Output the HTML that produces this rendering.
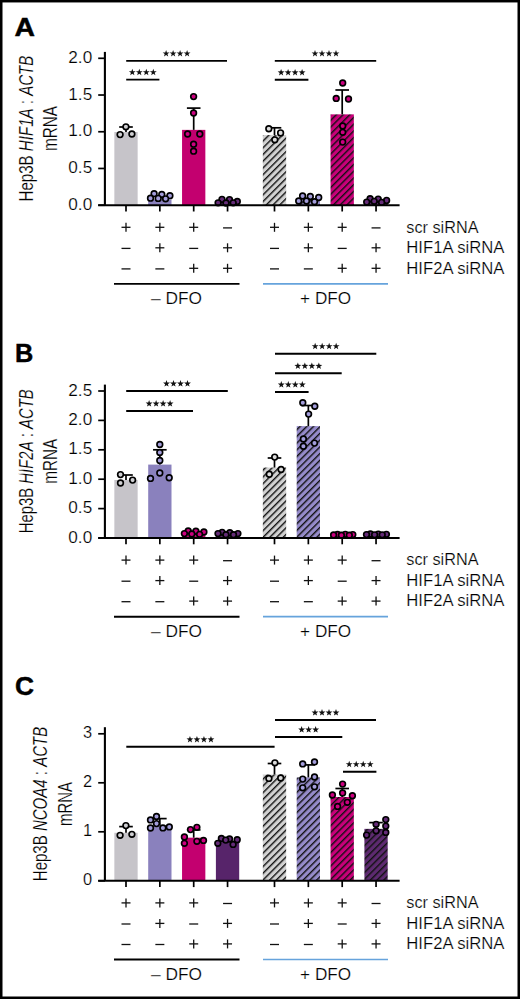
<!DOCTYPE html><html><head><meta charset="utf-8"><style>html,body{margin:0;padding:0;background:#fff;}svg{display:block;}</style></head><body>
<svg width="520" height="999" viewBox="0 0 520 999">
<style>text{stroke:#fff;stroke-width:0.2px;}text.b{stroke:#000;stroke-width:0.45px;}</style>
<defs>
<pattern id="hg" patternUnits="userSpaceOnUse" width="10" height="4.75" patternTransform="rotate(-45)"><rect width="10" height="4.75" fill="#d2d2d2"/><rect y="0" width="10" height="1.4" fill="#111"/></pattern>
<pattern id="hl" patternUnits="userSpaceOnUse" width="10" height="4.75" patternTransform="rotate(-45)"><rect width="10" height="4.75" fill="#958bca"/><rect y="0" width="10" height="1.4" fill="#111"/></pattern>
<pattern id="hm" patternUnits="userSpaceOnUse" width="10" height="4.75" patternTransform="rotate(-45)"><rect width="10" height="4.75" fill="#c8007a"/><rect y="0" width="10" height="1.4" fill="#111"/></pattern>
<pattern id="hp" patternUnits="userSpaceOnUse" width="10" height="4.75" patternTransform="rotate(-45)"><rect width="10" height="4.75" fill="#5d2a70"/><rect y="0" width="10" height="1.4" fill="#111"/></pattern>
</defs>
<rect x="0" y="0" width="520" height="999" fill="#fff"/>
<text transform="translate(14.6,35.800000000000004) scale(1.12,1)" x="0" y="0" font-family='"Liberation Sans", sans-serif' font-weight="bold" font-size="25.3" class="b">A</text>
<rect x="114.35" y="132.01" width="23.3" height="73.19" fill="#c6c4c9"/>
<rect x="148.20" y="199.51" width="23.3" height="5.69" fill="#8a81bd"/>
<rect x="182.05" y="129.87" width="23.3" height="75.33" fill="#c3006f"/>
<rect x="215.90" y="202.25" width="23.3" height="2.95" fill="#57246a"/>
<rect x="262.85" y="135.04" width="23.3" height="70.16" fill="url(#hg)"/>
<rect x="296.70" y="199.29" width="23.3" height="5.91" fill="url(#hl)"/>
<rect x="330.55" y="114.36" width="23.3" height="90.84" fill="url(#hm)"/>
<rect x="364.40" y="201.51" width="23.3" height="3.69" fill="url(#hp)"/>
<line x1="126.0" y1="132.01" x2="126.0" y2="127.00" stroke="#000" stroke-width="1.7"/>
<line x1="119.2" y1="127.00" x2="132.8" y2="127.00" stroke="#000" stroke-width="1.7"/>
<line x1="193.7" y1="129.87" x2="193.7" y2="108.10" stroke="#000" stroke-width="1.7"/>
<line x1="186.89999999999998" y1="108.10" x2="200.5" y2="108.10" stroke="#000" stroke-width="1.7"/>
<line x1="274.5" y1="135.04" x2="274.5" y2="127.80" stroke="#000" stroke-width="1.7"/>
<line x1="267.7" y1="127.80" x2="281.3" y2="127.80" stroke="#000" stroke-width="1.7"/>
<line x1="342.2" y1="114.36" x2="342.2" y2="90.00" stroke="#000" stroke-width="1.7"/>
<line x1="335.4" y1="90.00" x2="349.0" y2="90.00" stroke="#000" stroke-width="1.7"/>
<circle cx="125.9" cy="126.8" r="2.85" fill="#cfcfd2" stroke="#000" stroke-width="1.65"/>
<circle cx="131.9" cy="134" r="2.85" fill="#cfcfd2" stroke="#000" stroke-width="1.65"/>
<circle cx="120.1" cy="134.6" r="2.85" fill="#cfcfd2" stroke="#000" stroke-width="1.65"/>
<circle cx="154.1" cy="193.7" r="2.85" fill="#a39ddb" stroke="#000" stroke-width="1.65"/>
<circle cx="161.8" cy="194.5" r="2.85" fill="#a39ddb" stroke="#000" stroke-width="1.65"/>
<circle cx="169.9" cy="195.7" r="2.85" fill="#a39ddb" stroke="#000" stroke-width="1.65"/>
<circle cx="150.5" cy="198.2" r="2.85" fill="#a39ddb" stroke="#000" stroke-width="1.65"/>
<circle cx="158.2" cy="198.4" r="2.85" fill="#a39ddb" stroke="#000" stroke-width="1.65"/>
<circle cx="165.6" cy="198.8" r="2.85" fill="#a39ddb" stroke="#000" stroke-width="1.65"/>
<circle cx="193.6" cy="96.6" r="2.85" fill="#cc0080" stroke="#000" stroke-width="1.65"/>
<circle cx="193.6" cy="113" r="2.85" fill="#cc0080" stroke="#000" stroke-width="1.65"/>
<circle cx="187.6" cy="134" r="2.85" fill="#cc0080" stroke="#000" stroke-width="1.65"/>
<circle cx="199.8" cy="134" r="2.85" fill="#cc0080" stroke="#000" stroke-width="1.65"/>
<circle cx="193.6" cy="144.2" r="2.85" fill="#cc0080" stroke="#000" stroke-width="1.65"/>
<circle cx="193.6" cy="151.2" r="2.85" fill="#cc0080" stroke="#000" stroke-width="1.65"/>
<circle cx="222" cy="199.4" r="2.85" fill="#652c78" stroke="#000" stroke-width="1.65"/>
<circle cx="229.5" cy="199.6" r="2.85" fill="#652c78" stroke="#000" stroke-width="1.65"/>
<circle cx="237.3" cy="201.5" r="2.85" fill="#652c78" stroke="#000" stroke-width="1.65"/>
<circle cx="218.1" cy="202.8" r="2.85" fill="#652c78" stroke="#000" stroke-width="1.65"/>
<circle cx="233.2" cy="202.8" r="2.85" fill="#652c78" stroke="#000" stroke-width="1.65"/>
<circle cx="226" cy="203" r="2.85" fill="#652c78" stroke="#000" stroke-width="1.65"/>
<circle cx="268.8" cy="128.7" r="2.85" fill="#dcdcdc" stroke="#000" stroke-width="1.65"/>
<circle cx="280.6" cy="132.9" r="2.85" fill="#dcdcdc" stroke="#000" stroke-width="1.65"/>
<circle cx="274.8" cy="139.8" r="2.85" fill="#dcdcdc" stroke="#000" stroke-width="1.65"/>
<circle cx="302.6" cy="196" r="2.85" fill="#a39ddb" stroke="#000" stroke-width="1.65"/>
<circle cx="310.3" cy="196.5" r="2.85" fill="#a39ddb" stroke="#000" stroke-width="1.65"/>
<circle cx="318.7" cy="197.5" r="2.85" fill="#a39ddb" stroke="#000" stroke-width="1.65"/>
<circle cx="298.7" cy="201" r="2.85" fill="#a39ddb" stroke="#000" stroke-width="1.65"/>
<circle cx="306.5" cy="201" r="2.85" fill="#a39ddb" stroke="#000" stroke-width="1.65"/>
<circle cx="314.5" cy="201.7" r="2.85" fill="#a39ddb" stroke="#000" stroke-width="1.65"/>
<circle cx="342.7" cy="83" r="2.85" fill="#cc0080" stroke="#000" stroke-width="1.65"/>
<circle cx="336.2" cy="98.4" r="2.85" fill="#cc0080" stroke="#000" stroke-width="1.65"/>
<circle cx="348.5" cy="99" r="2.85" fill="#cc0080" stroke="#000" stroke-width="1.65"/>
<circle cx="342.7" cy="126" r="2.85" fill="#cc0080" stroke="#000" stroke-width="1.65"/>
<circle cx="342.7" cy="132.3" r="2.85" fill="#cc0080" stroke="#000" stroke-width="1.65"/>
<circle cx="342.7" cy="142.1" r="2.85" fill="#cc0080" stroke="#000" stroke-width="1.65"/>
<circle cx="370.1" cy="198.7" r="2.85" fill="#652c78" stroke="#000" stroke-width="1.65"/>
<circle cx="378.2" cy="199.1" r="2.85" fill="#652c78" stroke="#000" stroke-width="1.65"/>
<circle cx="386.6" cy="200.4" r="2.85" fill="#652c78" stroke="#000" stroke-width="1.65"/>
<circle cx="374.2" cy="201.3" r="2.85" fill="#652c78" stroke="#000" stroke-width="1.65"/>
<circle cx="366.7" cy="202.1" r="2.85" fill="#652c78" stroke="#000" stroke-width="1.65"/>
<circle cx="381.6" cy="202.4" r="2.85" fill="#652c78" stroke="#000" stroke-width="1.65"/>
<line x1="104.9" y1="51.9" x2="104.9" y2="205.2" stroke="#000" stroke-width="2.1"/>
<line x1="98.2" y1="205.2" x2="399.6" y2="205.2" stroke="#000" stroke-width="2.1"/>
<line x1="98.2" y1="205.20" x2="105" y2="205.20" stroke="#000" stroke-width="1.7"/>
<text x="92.2" y="209.75" text-anchor="end" font-family='"Liberation Sans", sans-serif' font-size="16.4" textLength="23.9" lengthAdjust="spacingAndGlyphs">0.0</text>
<line x1="98.2" y1="168.47" x2="105" y2="168.47" stroke="#000" stroke-width="1.7"/>
<text x="92.2" y="173.03" text-anchor="end" font-family='"Liberation Sans", sans-serif' font-size="16.4" textLength="23.9" lengthAdjust="spacingAndGlyphs">0.5</text>
<line x1="98.2" y1="131.75" x2="105" y2="131.75" stroke="#000" stroke-width="1.7"/>
<text x="92.2" y="136.30" text-anchor="end" font-family='"Liberation Sans", sans-serif' font-size="16.4" textLength="23.9" lengthAdjust="spacingAndGlyphs">1.0</text>
<line x1="98.2" y1="95.02" x2="105" y2="95.02" stroke="#000" stroke-width="1.7"/>
<text x="92.2" y="99.57" text-anchor="end" font-family='"Liberation Sans", sans-serif' font-size="16.4" textLength="23.9" lengthAdjust="spacingAndGlyphs">1.5</text>
<line x1="98.2" y1="58.30" x2="105" y2="58.30" stroke="#000" stroke-width="1.7"/>
<text x="92.2" y="62.85" text-anchor="end" font-family='"Liberation Sans", sans-serif' font-size="16.4" textLength="23.9" lengthAdjust="spacingAndGlyphs">2.0</text>
<line x1="126.0" y1="205.2" x2="126.0" y2="211.5" stroke="#000" stroke-width="1.7"/>
<line x1="159.85" y1="205.2" x2="159.85" y2="211.5" stroke="#000" stroke-width="1.7"/>
<line x1="193.7" y1="205.2" x2="193.7" y2="211.5" stroke="#000" stroke-width="1.7"/>
<line x1="227.55" y1="205.2" x2="227.55" y2="211.5" stroke="#000" stroke-width="1.7"/>
<line x1="274.5" y1="205.2" x2="274.5" y2="211.5" stroke="#000" stroke-width="1.7"/>
<line x1="308.35" y1="205.2" x2="308.35" y2="211.5" stroke="#000" stroke-width="1.7"/>
<line x1="342.2" y1="205.2" x2="342.2" y2="211.5" stroke="#000" stroke-width="1.7"/>
<line x1="376.05" y1="205.2" x2="376.05" y2="211.5" stroke="#000" stroke-width="1.7"/>
<line x1="126.2" y1="60.9" x2="227" y2="60.9" stroke="#000" stroke-width="1.9"/>
<polygon points="166.10,50.00 166.95,52.44 169.52,52.49 167.47,54.04 168.22,56.51 166.10,55.04 163.98,56.51 164.73,54.04 162.68,52.49 165.25,52.44" fill="#111"/><polygon points="173.10,50.00 173.95,52.44 176.52,52.49 174.47,54.04 175.22,56.51 173.10,55.04 170.98,56.51 171.73,54.04 169.68,52.49 172.25,52.44" fill="#111"/><polygon points="180.10,50.00 180.95,52.44 183.52,52.49 181.47,54.04 182.22,56.51 180.10,55.04 177.98,56.51 178.73,54.04 176.68,52.49 179.25,52.44" fill="#111"/><polygon points="187.10,50.00 187.95,52.44 190.52,52.49 188.47,54.04 189.22,56.51 187.10,55.04 184.98,56.51 185.73,54.04 183.68,52.49 186.25,52.44" fill="#111"/>
<line x1="126.2" y1="79.6" x2="159.4" y2="79.6" stroke="#000" stroke-width="1.9"/>
<polygon points="132.30,68.70 133.15,71.14 135.72,71.19 133.67,72.74 134.42,75.21 132.30,73.74 130.18,75.21 130.93,72.74 128.88,71.19 131.45,71.14" fill="#111"/><polygon points="139.30,68.70 140.15,71.14 142.72,71.19 140.67,72.74 141.42,75.21 139.30,73.74 137.18,75.21 137.93,72.74 135.88,71.19 138.45,71.14" fill="#111"/><polygon points="146.30,68.70 147.15,71.14 149.72,71.19 147.67,72.74 148.42,75.21 146.30,73.74 144.18,75.21 144.93,72.74 142.88,71.19 145.45,71.14" fill="#111"/><polygon points="153.30,68.70 154.15,71.14 156.72,71.19 154.67,72.74 155.42,75.21 153.30,73.74 151.18,75.21 151.93,72.74 149.88,71.19 152.45,71.14" fill="#111"/>
<line x1="274.8" y1="60.9" x2="376.2" y2="60.9" stroke="#000" stroke-width="1.9"/>
<polygon points="315.00,50.00 315.85,52.44 318.42,52.49 316.37,54.04 317.12,56.51 315.00,55.04 312.88,56.51 313.63,54.04 311.58,52.49 314.15,52.44" fill="#111"/><polygon points="322.00,50.00 322.85,52.44 325.42,52.49 323.37,54.04 324.12,56.51 322.00,55.04 319.88,56.51 320.63,54.04 318.58,52.49 321.15,52.44" fill="#111"/><polygon points="329.00,50.00 329.85,52.44 332.42,52.49 330.37,54.04 331.12,56.51 329.00,55.04 326.88,56.51 327.63,54.04 325.58,52.49 328.15,52.44" fill="#111"/><polygon points="336.00,50.00 336.85,52.44 339.42,52.49 337.37,54.04 338.12,56.51 336.00,55.04 333.88,56.51 334.63,54.04 332.58,52.49 335.15,52.44" fill="#111"/>
<line x1="274.8" y1="79.8" x2="308.4" y2="79.8" stroke="#000" stroke-width="1.9"/>
<polygon points="281.10,68.90 281.95,71.34 284.52,71.39 282.47,72.94 283.22,75.41 281.10,73.94 278.98,75.41 279.73,72.94 277.68,71.39 280.25,71.34" fill="#111"/><polygon points="288.10,68.90 288.95,71.34 291.52,71.39 289.47,72.94 290.22,75.41 288.10,73.94 285.98,75.41 286.73,72.94 284.68,71.39 287.25,71.34" fill="#111"/><polygon points="295.10,68.90 295.95,71.34 298.52,71.39 296.47,72.94 297.22,75.41 295.10,73.94 292.98,75.41 293.73,72.94 291.68,71.39 294.25,71.34" fill="#111"/><polygon points="302.10,68.90 302.95,71.34 305.52,71.39 303.47,72.94 304.22,75.41 302.10,73.94 299.98,75.41 300.73,72.94 298.68,71.39 301.25,71.34" fill="#111"/>
<line x1="121.5" y1="227.30" x2="130.5" y2="227.30" stroke="#111" stroke-width="1.3"/>
<line x1="126.0" y1="222.80" x2="126.0" y2="231.80" stroke="#111" stroke-width="1.3"/>
<line x1="155.35" y1="227.30" x2="164.35" y2="227.30" stroke="#111" stroke-width="1.3"/>
<line x1="159.85" y1="222.80" x2="159.85" y2="231.80" stroke="#111" stroke-width="1.3"/>
<line x1="189.2" y1="227.30" x2="198.2" y2="227.30" stroke="#111" stroke-width="1.3"/>
<line x1="193.7" y1="222.80" x2="193.7" y2="231.80" stroke="#111" stroke-width="1.3"/>
<line x1="223.05" y1="227.90" x2="232.05" y2="227.90" stroke="#111" stroke-width="1.3"/>
<line x1="270.0" y1="227.30" x2="279.0" y2="227.30" stroke="#111" stroke-width="1.3"/>
<line x1="274.5" y1="222.80" x2="274.5" y2="231.80" stroke="#111" stroke-width="1.3"/>
<line x1="303.85" y1="227.30" x2="312.85" y2="227.30" stroke="#111" stroke-width="1.3"/>
<line x1="308.35" y1="222.80" x2="308.35" y2="231.80" stroke="#111" stroke-width="1.3"/>
<line x1="337.7" y1="227.30" x2="346.7" y2="227.30" stroke="#111" stroke-width="1.3"/>
<line x1="342.2" y1="222.80" x2="342.2" y2="231.80" stroke="#111" stroke-width="1.3"/>
<line x1="371.55" y1="227.90" x2="380.55" y2="227.90" stroke="#111" stroke-width="1.3"/>
<line x1="121.5" y1="248.40" x2="130.5" y2="248.40" stroke="#111" stroke-width="1.3"/>
<line x1="155.35" y1="247.80" x2="164.35" y2="247.80" stroke="#111" stroke-width="1.3"/>
<line x1="159.85" y1="243.30" x2="159.85" y2="252.30" stroke="#111" stroke-width="1.3"/>
<line x1="189.2" y1="248.40" x2="198.2" y2="248.40" stroke="#111" stroke-width="1.3"/>
<line x1="223.05" y1="247.80" x2="232.05" y2="247.80" stroke="#111" stroke-width="1.3"/>
<line x1="227.55" y1="243.30" x2="227.55" y2="252.30" stroke="#111" stroke-width="1.3"/>
<line x1="270.0" y1="248.40" x2="279.0" y2="248.40" stroke="#111" stroke-width="1.3"/>
<line x1="303.85" y1="247.80" x2="312.85" y2="247.80" stroke="#111" stroke-width="1.3"/>
<line x1="308.35" y1="243.30" x2="308.35" y2="252.30" stroke="#111" stroke-width="1.3"/>
<line x1="337.7" y1="248.40" x2="346.7" y2="248.40" stroke="#111" stroke-width="1.3"/>
<line x1="371.55" y1="247.80" x2="380.55" y2="247.80" stroke="#111" stroke-width="1.3"/>
<line x1="376.05" y1="243.30" x2="376.05" y2="252.30" stroke="#111" stroke-width="1.3"/>
<line x1="121.5" y1="268.90" x2="130.5" y2="268.90" stroke="#111" stroke-width="1.3"/>
<line x1="155.35" y1="268.90" x2="164.35" y2="268.90" stroke="#111" stroke-width="1.3"/>
<line x1="189.2" y1="268.30" x2="198.2" y2="268.30" stroke="#111" stroke-width="1.3"/>
<line x1="193.7" y1="263.80" x2="193.7" y2="272.80" stroke="#111" stroke-width="1.3"/>
<line x1="223.05" y1="268.30" x2="232.05" y2="268.30" stroke="#111" stroke-width="1.3"/>
<line x1="227.55" y1="263.80" x2="227.55" y2="272.80" stroke="#111" stroke-width="1.3"/>
<line x1="270.0" y1="268.90" x2="279.0" y2="268.90" stroke="#111" stroke-width="1.3"/>
<line x1="303.85" y1="268.90" x2="312.85" y2="268.90" stroke="#111" stroke-width="1.3"/>
<line x1="337.7" y1="268.30" x2="346.7" y2="268.30" stroke="#111" stroke-width="1.3"/>
<line x1="342.2" y1="263.80" x2="342.2" y2="272.80" stroke="#111" stroke-width="1.3"/>
<line x1="371.55" y1="268.30" x2="380.55" y2="268.30" stroke="#111" stroke-width="1.3"/>
<line x1="376.05" y1="263.80" x2="376.05" y2="272.80" stroke="#111" stroke-width="1.3"/>
<text x="406.3" y="232.60" font-family='"Liberation Sans", sans-serif' font-size="15.6" textLength="72.2" lengthAdjust="spacingAndGlyphs">scr siRNA</text>
<text x="406.3" y="253.10" font-family='"Liberation Sans", sans-serif' font-size="15.6" textLength="98.2" lengthAdjust="spacingAndGlyphs">HIF1A siRNA</text>
<text x="406.3" y="273.60" font-family='"Liberation Sans", sans-serif' font-size="15.6" textLength="98.2" lengthAdjust="spacingAndGlyphs">HIF2A siRNA</text>
<line x1="114" y1="283.90" x2="239.5" y2="283.90" stroke="#000" stroke-width="1.9"/>
<line x1="263" y1="283.90" x2="388" y2="283.90" stroke="#66a3dc" stroke-width="1.7"/>
<text x="176.5" y="304.40" text-anchor="middle" font-family='"Liberation Sans", sans-serif' font-size="15.6" textLength="51" lengthAdjust="spacingAndGlyphs">– DFO</text>
<text x="325.6" y="304.40" text-anchor="middle" font-family='"Liberation Sans", sans-serif' font-size="15.6" textLength="51" lengthAdjust="spacingAndGlyphs">+ DFO</text>
<g transform="translate(32.6,128.54999999999998) rotate(-90)"><text x="0" y="0" text-anchor="middle" font-family='"Liberation Sans", sans-serif' font-size="20" textLength="145.8" lengthAdjust="spacingAndGlyphs">Hep3B <tspan font-style="italic">HIF1A</tspan> : <tspan font-style="italic">ACTB</tspan></text></g>
<g transform="translate(57.2,128.54999999999998) rotate(-90)"><text x="0" y="0" text-anchor="middle" font-family='"Liberation Sans", sans-serif' font-size="20" textLength="45" lengthAdjust="spacingAndGlyphs">mRNA</text></g>
<text transform="translate(15.0,362.0) scale(1.0,1)" x="0" y="0" font-family='"Liberation Sans", sans-serif' font-weight="bold" font-size="25.3" class="b">B</text>
<rect x="114.35" y="479.98" width="23.3" height="58.02" fill="#c6c4c9"/>
<rect x="148.20" y="464.59" width="23.3" height="73.41" fill="#8a81bd"/>
<rect x="182.05" y="535.04" width="23.3" height="2.96" fill="#c3006f"/>
<rect x="215.90" y="535.63" width="23.3" height="2.37" fill="#57246a"/>
<rect x="262.85" y="467.55" width="23.3" height="70.45" fill="url(#hg)"/>
<rect x="296.70" y="426.11" width="23.3" height="111.89" fill="url(#hl)"/>
<rect x="330.55" y="535.04" width="23.3" height="2.96" fill="url(#hm)"/>
<rect x="364.40" y="535.04" width="23.3" height="2.96" fill="url(#hp)"/>
<line x1="126.0" y1="479.98" x2="126.0" y2="475.00" stroke="#000" stroke-width="1.7"/>
<line x1="119.2" y1="475.00" x2="132.8" y2="475.00" stroke="#000" stroke-width="1.7"/>
<line x1="159.85" y1="464.59" x2="159.85" y2="449.80" stroke="#000" stroke-width="1.7"/>
<line x1="153.04999999999998" y1="449.80" x2="166.65" y2="449.80" stroke="#000" stroke-width="1.7"/>
<line x1="274.5" y1="467.55" x2="274.5" y2="458.00" stroke="#000" stroke-width="1.7"/>
<line x1="267.7" y1="458.00" x2="281.3" y2="458.00" stroke="#000" stroke-width="1.7"/>
<line x1="308.35" y1="426.11" x2="308.35" y2="405.50" stroke="#000" stroke-width="1.7"/>
<line x1="301.55" y1="405.50" x2="315.15000000000003" y2="405.50" stroke="#000" stroke-width="1.7"/>
<circle cx="120.5" cy="474.6" r="2.85" fill="#cfcfd2" stroke="#000" stroke-width="1.65"/>
<circle cx="132.6" cy="480.1" r="2.85" fill="#cfcfd2" stroke="#000" stroke-width="1.65"/>
<circle cx="120.5" cy="483" r="2.85" fill="#cfcfd2" stroke="#000" stroke-width="1.65"/>
<circle cx="159.8" cy="444.4" r="2.85" fill="#a39ddb" stroke="#000" stroke-width="1.65"/>
<circle cx="159.8" cy="452.5" r="2.85" fill="#a39ddb" stroke="#000" stroke-width="1.65"/>
<circle cx="159.8" cy="460.5" r="2.85" fill="#a39ddb" stroke="#000" stroke-width="1.65"/>
<circle cx="159.8" cy="473" r="2.85" fill="#a39ddb" stroke="#000" stroke-width="1.65"/>
<circle cx="169.2" cy="477.7" r="2.85" fill="#a39ddb" stroke="#000" stroke-width="1.65"/>
<circle cx="150.5" cy="478.4" r="2.85" fill="#a39ddb" stroke="#000" stroke-width="1.65"/>
<circle cx="188.2" cy="531" r="2.85" fill="#cc0080" stroke="#000" stroke-width="1.65"/>
<circle cx="195.9" cy="531.2" r="2.85" fill="#cc0080" stroke="#000" stroke-width="1.65"/>
<circle cx="203.9" cy="532" r="2.85" fill="#cc0080" stroke="#000" stroke-width="1.65"/>
<circle cx="184.4" cy="533.6" r="2.85" fill="#cc0080" stroke="#000" stroke-width="1.65"/>
<circle cx="191.8" cy="534" r="2.85" fill="#cc0080" stroke="#000" stroke-width="1.65"/>
<circle cx="199.6" cy="534.3" r="2.85" fill="#cc0080" stroke="#000" stroke-width="1.65"/>
<circle cx="222.1" cy="532.3" r="2.85" fill="#652c78" stroke="#000" stroke-width="1.65"/>
<circle cx="229.8" cy="532.7" r="2.85" fill="#652c78" stroke="#000" stroke-width="1.65"/>
<circle cx="218" cy="533.6" r="2.85" fill="#652c78" stroke="#000" stroke-width="1.65"/>
<circle cx="237.9" cy="533.6" r="2.85" fill="#652c78" stroke="#000" stroke-width="1.65"/>
<circle cx="225.9" cy="534.7" r="2.85" fill="#652c78" stroke="#000" stroke-width="1.65"/>
<circle cx="233.5" cy="534.7" r="2.85" fill="#652c78" stroke="#000" stroke-width="1.65"/>
<circle cx="274.7" cy="457.1" r="2.85" fill="#dcdcdc" stroke="#000" stroke-width="1.65"/>
<circle cx="281.1" cy="469.5" r="2.85" fill="#dcdcdc" stroke="#000" stroke-width="1.65"/>
<circle cx="269.3" cy="474.3" r="2.85" fill="#dcdcdc" stroke="#000" stroke-width="1.65"/>
<circle cx="302.8" cy="402.7" r="2.85" fill="#a39ddb" stroke="#000" stroke-width="1.65"/>
<circle cx="314.8" cy="406.3" r="2.85" fill="#a39ddb" stroke="#000" stroke-width="1.65"/>
<circle cx="308.6" cy="414.1" r="2.85" fill="#a39ddb" stroke="#000" stroke-width="1.65"/>
<circle cx="303.4" cy="438.9" r="2.85" fill="#a39ddb" stroke="#000" stroke-width="1.65"/>
<circle cx="314.5" cy="443.1" r="2.85" fill="#a39ddb" stroke="#000" stroke-width="1.65"/>
<circle cx="303.4" cy="446.2" r="2.85" fill="#a39ddb" stroke="#000" stroke-width="1.65"/>
<circle cx="345.3" cy="534.3" r="2.85" fill="#cc0080" stroke="#000" stroke-width="1.65"/>
<circle cx="337.5" cy="534.4" r="2.85" fill="#cc0080" stroke="#000" stroke-width="1.65"/>
<circle cx="352.8" cy="534.6" r="2.85" fill="#cc0080" stroke="#000" stroke-width="1.65"/>
<circle cx="333.6" cy="535.0" r="2.85" fill="#cc0080" stroke="#000" stroke-width="1.65"/>
<circle cx="341.4" cy="535.2" r="2.85" fill="#cc0080" stroke="#000" stroke-width="1.65"/>
<circle cx="349.3" cy="535.2" r="2.85" fill="#cc0080" stroke="#000" stroke-width="1.65"/>
<circle cx="370.4" cy="534.0" r="2.85" fill="#652c78" stroke="#000" stroke-width="1.65"/>
<circle cx="378.3" cy="534.1" r="2.85" fill="#652c78" stroke="#000" stroke-width="1.65"/>
<circle cx="386.4" cy="534.3" r="2.85" fill="#652c78" stroke="#000" stroke-width="1.65"/>
<circle cx="366.5" cy="534.6" r="2.85" fill="#652c78" stroke="#000" stroke-width="1.65"/>
<circle cx="374.6" cy="534.8" r="2.85" fill="#652c78" stroke="#000" stroke-width="1.65"/>
<circle cx="382.2" cy="534.8" r="2.85" fill="#652c78" stroke="#000" stroke-width="1.65"/>
<line x1="104.9" y1="384.6" x2="104.9" y2="538.0" stroke="#000" stroke-width="2.1"/>
<line x1="98.2" y1="538.0" x2="399.6" y2="538.0" stroke="#000" stroke-width="2.1"/>
<line x1="98.2" y1="538.00" x2="105" y2="538.00" stroke="#000" stroke-width="1.7"/>
<text x="92.2" y="542.55" text-anchor="end" font-family='"Liberation Sans", sans-serif' font-size="16.4" textLength="23.9" lengthAdjust="spacingAndGlyphs">0.0</text>
<line x1="98.2" y1="508.60" x2="105" y2="508.60" stroke="#000" stroke-width="1.7"/>
<text x="92.2" y="513.15" text-anchor="end" font-family='"Liberation Sans", sans-serif' font-size="16.4" textLength="23.9" lengthAdjust="spacingAndGlyphs">0.5</text>
<line x1="98.2" y1="479.20" x2="105" y2="479.20" stroke="#000" stroke-width="1.7"/>
<text x="92.2" y="483.75" text-anchor="end" font-family='"Liberation Sans", sans-serif' font-size="16.4" textLength="23.9" lengthAdjust="spacingAndGlyphs">1.0</text>
<line x1="98.2" y1="449.80" x2="105" y2="449.80" stroke="#000" stroke-width="1.7"/>
<text x="92.2" y="454.35" text-anchor="end" font-family='"Liberation Sans", sans-serif' font-size="16.4" textLength="23.9" lengthAdjust="spacingAndGlyphs">1.5</text>
<line x1="98.2" y1="420.40" x2="105" y2="420.40" stroke="#000" stroke-width="1.7"/>
<text x="92.2" y="424.95" text-anchor="end" font-family='"Liberation Sans", sans-serif' font-size="16.4" textLength="23.9" lengthAdjust="spacingAndGlyphs">2.0</text>
<line x1="98.2" y1="391.00" x2="105" y2="391.00" stroke="#000" stroke-width="1.7"/>
<text x="92.2" y="395.55" text-anchor="end" font-family='"Liberation Sans", sans-serif' font-size="16.4" textLength="23.9" lengthAdjust="spacingAndGlyphs">2.5</text>
<line x1="126.0" y1="538.0" x2="126.0" y2="544.3" stroke="#000" stroke-width="1.7"/>
<line x1="159.85" y1="538.0" x2="159.85" y2="544.3" stroke="#000" stroke-width="1.7"/>
<line x1="193.7" y1="538.0" x2="193.7" y2="544.3" stroke="#000" stroke-width="1.7"/>
<line x1="227.55" y1="538.0" x2="227.55" y2="544.3" stroke="#000" stroke-width="1.7"/>
<line x1="274.5" y1="538.0" x2="274.5" y2="544.3" stroke="#000" stroke-width="1.7"/>
<line x1="308.35" y1="538.0" x2="308.35" y2="544.3" stroke="#000" stroke-width="1.7"/>
<line x1="342.2" y1="538.0" x2="342.2" y2="544.3" stroke="#000" stroke-width="1.7"/>
<line x1="376.05" y1="538.0" x2="376.05" y2="544.3" stroke="#000" stroke-width="1.7"/>
<line x1="126.2" y1="391" x2="227.8" y2="391" stroke="#000" stroke-width="1.9"/>
<polygon points="166.50,380.10 167.35,382.54 169.92,382.59 167.87,384.14 168.62,386.61 166.50,385.14 164.38,386.61 165.13,384.14 163.08,382.59 165.65,382.54" fill="#111"/><polygon points="173.50,380.10 174.35,382.54 176.92,382.59 174.87,384.14 175.62,386.61 173.50,385.14 171.38,386.61 172.13,384.14 170.08,382.59 172.65,382.54" fill="#111"/><polygon points="180.50,380.10 181.35,382.54 183.92,382.59 181.87,384.14 182.62,386.61 180.50,385.14 178.38,386.61 179.13,384.14 177.08,382.59 179.65,382.54" fill="#111"/><polygon points="187.50,380.10 188.35,382.54 190.92,382.59 188.87,384.14 189.62,386.61 187.50,385.14 185.38,386.61 186.13,384.14 184.08,382.59 186.65,382.54" fill="#111"/>
<line x1="126.2" y1="411" x2="193" y2="411" stroke="#000" stroke-width="1.9"/>
<polygon points="149.10,400.10 149.95,402.54 152.52,402.59 150.47,404.14 151.22,406.61 149.10,405.14 146.98,406.61 147.73,404.14 145.68,402.59 148.25,402.54" fill="#111"/><polygon points="156.10,400.10 156.95,402.54 159.52,402.59 157.47,404.14 158.22,406.61 156.10,405.14 153.98,406.61 154.73,404.14 152.68,402.59 155.25,402.54" fill="#111"/><polygon points="163.10,400.10 163.95,402.54 166.52,402.59 164.47,404.14 165.22,406.61 163.10,405.14 160.98,406.61 161.73,404.14 159.68,402.59 162.25,402.54" fill="#111"/><polygon points="170.10,400.10 170.95,402.54 173.52,402.59 171.47,404.14 172.22,406.61 170.10,405.14 167.98,406.61 168.73,404.14 166.68,402.59 169.25,402.54" fill="#111"/>
<line x1="275" y1="353.7" x2="376.3" y2="353.7" stroke="#000" stroke-width="1.9"/>
<polygon points="315.15,342.80 316.00,345.24 318.57,345.29 316.52,346.84 317.27,349.31 315.15,347.84 313.03,349.31 313.78,346.84 311.73,345.29 314.30,345.24" fill="#111"/><polygon points="322.15,342.80 323.00,345.24 325.57,345.29 323.52,346.84 324.27,349.31 322.15,347.84 320.03,349.31 320.78,346.84 318.73,345.29 321.30,345.24" fill="#111"/><polygon points="329.15,342.80 330.00,345.24 332.57,345.29 330.52,346.84 331.27,349.31 329.15,347.84 327.03,349.31 327.78,346.84 325.73,345.29 328.30,345.24" fill="#111"/><polygon points="336.15,342.80 337.00,345.24 339.57,345.29 337.52,346.84 338.27,349.31 336.15,347.84 334.03,349.31 334.78,346.84 332.73,345.29 335.30,345.24" fill="#111"/>
<line x1="275" y1="373.3" x2="341.7" y2="373.3" stroke="#000" stroke-width="1.9"/>
<polygon points="297.85,362.40 298.70,364.84 301.27,364.89 299.22,366.44 299.97,368.91 297.85,367.44 295.73,368.91 296.48,366.44 294.43,364.89 297.00,364.84" fill="#111"/><polygon points="304.85,362.40 305.70,364.84 308.27,364.89 306.22,366.44 306.97,368.91 304.85,367.44 302.73,368.91 303.48,366.44 301.43,364.89 304.00,364.84" fill="#111"/><polygon points="311.85,362.40 312.70,364.84 315.27,364.89 313.22,366.44 313.97,368.91 311.85,367.44 309.73,368.91 310.48,366.44 308.43,364.89 311.00,364.84" fill="#111"/><polygon points="318.85,362.40 319.70,364.84 322.27,364.89 320.22,366.44 320.97,368.91 318.85,367.44 316.73,368.91 317.48,366.44 315.43,364.89 318.00,364.84" fill="#111"/>
<line x1="275" y1="392" x2="308.6" y2="392" stroke="#000" stroke-width="1.9"/>
<polygon points="281.30,381.10 282.15,383.54 284.72,383.59 282.67,385.14 283.42,387.61 281.30,386.14 279.18,387.61 279.93,385.14 277.88,383.59 280.45,383.54" fill="#111"/><polygon points="288.30,381.10 289.15,383.54 291.72,383.59 289.67,385.14 290.42,387.61 288.30,386.14 286.18,387.61 286.93,385.14 284.88,383.59 287.45,383.54" fill="#111"/><polygon points="295.30,381.10 296.15,383.54 298.72,383.59 296.67,385.14 297.42,387.61 295.30,386.14 293.18,387.61 293.93,385.14 291.88,383.59 294.45,383.54" fill="#111"/><polygon points="302.30,381.10 303.15,383.54 305.72,383.59 303.67,385.14 304.42,387.61 302.30,386.14 300.18,387.61 300.93,385.14 298.88,383.59 301.45,383.54" fill="#111"/>
<line x1="121.5" y1="560.10" x2="130.5" y2="560.10" stroke="#111" stroke-width="1.3"/>
<line x1="126.0" y1="555.60" x2="126.0" y2="564.60" stroke="#111" stroke-width="1.3"/>
<line x1="155.35" y1="560.10" x2="164.35" y2="560.10" stroke="#111" stroke-width="1.3"/>
<line x1="159.85" y1="555.60" x2="159.85" y2="564.60" stroke="#111" stroke-width="1.3"/>
<line x1="189.2" y1="560.10" x2="198.2" y2="560.10" stroke="#111" stroke-width="1.3"/>
<line x1="193.7" y1="555.60" x2="193.7" y2="564.60" stroke="#111" stroke-width="1.3"/>
<line x1="223.05" y1="560.70" x2="232.05" y2="560.70" stroke="#111" stroke-width="1.3"/>
<line x1="270.0" y1="560.10" x2="279.0" y2="560.10" stroke="#111" stroke-width="1.3"/>
<line x1="274.5" y1="555.60" x2="274.5" y2="564.60" stroke="#111" stroke-width="1.3"/>
<line x1="303.85" y1="560.10" x2="312.85" y2="560.10" stroke="#111" stroke-width="1.3"/>
<line x1="308.35" y1="555.60" x2="308.35" y2="564.60" stroke="#111" stroke-width="1.3"/>
<line x1="337.7" y1="560.10" x2="346.7" y2="560.10" stroke="#111" stroke-width="1.3"/>
<line x1="342.2" y1="555.60" x2="342.2" y2="564.60" stroke="#111" stroke-width="1.3"/>
<line x1="371.55" y1="560.70" x2="380.55" y2="560.70" stroke="#111" stroke-width="1.3"/>
<line x1="121.5" y1="581.20" x2="130.5" y2="581.20" stroke="#111" stroke-width="1.3"/>
<line x1="155.35" y1="580.60" x2="164.35" y2="580.60" stroke="#111" stroke-width="1.3"/>
<line x1="159.85" y1="576.10" x2="159.85" y2="585.10" stroke="#111" stroke-width="1.3"/>
<line x1="189.2" y1="581.20" x2="198.2" y2="581.20" stroke="#111" stroke-width="1.3"/>
<line x1="223.05" y1="580.60" x2="232.05" y2="580.60" stroke="#111" stroke-width="1.3"/>
<line x1="227.55" y1="576.10" x2="227.55" y2="585.10" stroke="#111" stroke-width="1.3"/>
<line x1="270.0" y1="581.20" x2="279.0" y2="581.20" stroke="#111" stroke-width="1.3"/>
<line x1="303.85" y1="580.60" x2="312.85" y2="580.60" stroke="#111" stroke-width="1.3"/>
<line x1="308.35" y1="576.10" x2="308.35" y2="585.10" stroke="#111" stroke-width="1.3"/>
<line x1="337.7" y1="581.20" x2="346.7" y2="581.20" stroke="#111" stroke-width="1.3"/>
<line x1="371.55" y1="580.60" x2="380.55" y2="580.60" stroke="#111" stroke-width="1.3"/>
<line x1="376.05" y1="576.10" x2="376.05" y2="585.10" stroke="#111" stroke-width="1.3"/>
<line x1="121.5" y1="601.70" x2="130.5" y2="601.70" stroke="#111" stroke-width="1.3"/>
<line x1="155.35" y1="601.70" x2="164.35" y2="601.70" stroke="#111" stroke-width="1.3"/>
<line x1="189.2" y1="601.10" x2="198.2" y2="601.10" stroke="#111" stroke-width="1.3"/>
<line x1="193.7" y1="596.60" x2="193.7" y2="605.60" stroke="#111" stroke-width="1.3"/>
<line x1="223.05" y1="601.10" x2="232.05" y2="601.10" stroke="#111" stroke-width="1.3"/>
<line x1="227.55" y1="596.60" x2="227.55" y2="605.60" stroke="#111" stroke-width="1.3"/>
<line x1="270.0" y1="601.70" x2="279.0" y2="601.70" stroke="#111" stroke-width="1.3"/>
<line x1="303.85" y1="601.70" x2="312.85" y2="601.70" stroke="#111" stroke-width="1.3"/>
<line x1="337.7" y1="601.10" x2="346.7" y2="601.10" stroke="#111" stroke-width="1.3"/>
<line x1="342.2" y1="596.60" x2="342.2" y2="605.60" stroke="#111" stroke-width="1.3"/>
<line x1="371.55" y1="601.10" x2="380.55" y2="601.10" stroke="#111" stroke-width="1.3"/>
<line x1="376.05" y1="596.60" x2="376.05" y2="605.60" stroke="#111" stroke-width="1.3"/>
<text x="406.3" y="565.40" font-family='"Liberation Sans", sans-serif' font-size="15.6" textLength="72.2" lengthAdjust="spacingAndGlyphs">scr siRNA</text>
<text x="406.3" y="585.90" font-family='"Liberation Sans", sans-serif' font-size="15.6" textLength="98.2" lengthAdjust="spacingAndGlyphs">HIF1A siRNA</text>
<text x="406.3" y="606.40" font-family='"Liberation Sans", sans-serif' font-size="15.6" textLength="98.2" lengthAdjust="spacingAndGlyphs">HIF2A siRNA</text>
<line x1="114" y1="616.70" x2="239.5" y2="616.70" stroke="#000" stroke-width="1.9"/>
<line x1="263" y1="616.70" x2="388" y2="616.70" stroke="#66a3dc" stroke-width="1.7"/>
<text x="176.5" y="637.20" text-anchor="middle" font-family='"Liberation Sans", sans-serif' font-size="15.6" textLength="51" lengthAdjust="spacingAndGlyphs">– DFO</text>
<text x="325.6" y="637.20" text-anchor="middle" font-family='"Liberation Sans", sans-serif' font-size="15.6" textLength="51" lengthAdjust="spacingAndGlyphs">+ DFO</text>
<g transform="translate(32.6,461.3) rotate(-90)"><text x="0" y="0" text-anchor="middle" font-family='"Liberation Sans", sans-serif' font-size="20" textLength="144" lengthAdjust="spacingAndGlyphs">Hep3B <tspan font-style="italic">HIF2A</tspan> : <tspan font-style="italic">ACTB</tspan></text></g>
<g transform="translate(57.2,461.3) rotate(-90)"><text x="0" y="0" text-anchor="middle" font-family='"Liberation Sans", sans-serif' font-size="20" textLength="45" lengthAdjust="spacingAndGlyphs">mRNA</text></g>
<text transform="translate(15.0,694.8000000000001) scale(1.04,1)" x="0" y="0" font-family='"Liberation Sans", sans-serif' font-weight="bold" font-size="25.3" class="b">C</text>
<rect x="114.35" y="832.78" width="23.3" height="48.02" fill="#c6c4c9"/>
<rect x="148.20" y="824.94" width="23.3" height="55.86" fill="#8a81bd"/>
<rect x="182.05" y="837.68" width="23.3" height="43.12" fill="#c3006f"/>
<rect x="215.90" y="840.62" width="23.3" height="40.18" fill="#57246a"/>
<rect x="262.85" y="774.47" width="23.3" height="106.33" fill="url(#hg)"/>
<rect x="296.70" y="777.41" width="23.3" height="103.39" fill="url(#hl)"/>
<rect x="330.55" y="797.01" width="23.3" height="83.79" fill="url(#hm)"/>
<rect x="364.40" y="828.86" width="23.3" height="51.94" fill="url(#hp)"/>
<line x1="126.0" y1="832.78" x2="126.0" y2="826.60" stroke="#000" stroke-width="1.7"/>
<line x1="119.2" y1="826.60" x2="132.8" y2="826.60" stroke="#000" stroke-width="1.7"/>
<line x1="159.85" y1="824.94" x2="159.85" y2="818.60" stroke="#000" stroke-width="1.7"/>
<line x1="153.04999999999998" y1="818.60" x2="166.65" y2="818.60" stroke="#000" stroke-width="1.7"/>
<line x1="193.7" y1="837.68" x2="193.7" y2="829.90" stroke="#000" stroke-width="1.7"/>
<line x1="186.89999999999998" y1="829.90" x2="200.5" y2="829.90" stroke="#000" stroke-width="1.7"/>
<line x1="274.5" y1="774.47" x2="274.5" y2="763.50" stroke="#000" stroke-width="1.7"/>
<line x1="267.7" y1="763.50" x2="281.3" y2="763.50" stroke="#000" stroke-width="1.7"/>
<line x1="308.35" y1="777.41" x2="308.35" y2="764.90" stroke="#000" stroke-width="1.7"/>
<line x1="301.55" y1="764.90" x2="315.15000000000003" y2="764.90" stroke="#000" stroke-width="1.7"/>
<line x1="342.2" y1="797.01" x2="342.2" y2="788.50" stroke="#000" stroke-width="1.7"/>
<line x1="335.4" y1="788.50" x2="349.0" y2="788.50" stroke="#000" stroke-width="1.7"/>
<line x1="376.05" y1="828.86" x2="376.05" y2="822.60" stroke="#000" stroke-width="1.7"/>
<line x1="369.25" y1="822.60" x2="382.85" y2="822.60" stroke="#000" stroke-width="1.7"/>
<circle cx="125.9" cy="825.6" r="2.85" fill="#cfcfd2" stroke="#000" stroke-width="1.65"/>
<circle cx="131.9" cy="834.3" r="2.85" fill="#cfcfd2" stroke="#000" stroke-width="1.65"/>
<circle cx="120.1" cy="835.3" r="2.85" fill="#cfcfd2" stroke="#000" stroke-width="1.65"/>
<circle cx="156.5" cy="816.4" r="2.85" fill="#a39ddb" stroke="#000" stroke-width="1.65"/>
<circle cx="150.5" cy="819.9" r="2.85" fill="#a39ddb" stroke="#000" stroke-width="1.65"/>
<circle cx="156.5" cy="823.6" r="2.85" fill="#a39ddb" stroke="#000" stroke-width="1.65"/>
<circle cx="169.3" cy="826.9" r="2.85" fill="#a39ddb" stroke="#000" stroke-width="1.65"/>
<circle cx="162.9" cy="827.9" r="2.85" fill="#a39ddb" stroke="#000" stroke-width="1.65"/>
<circle cx="150.5" cy="828" r="2.85" fill="#a39ddb" stroke="#000" stroke-width="1.65"/>
<circle cx="196.9" cy="827.3" r="2.85" fill="#cc0080" stroke="#000" stroke-width="1.65"/>
<circle cx="190.5" cy="829.6" r="2.85" fill="#cc0080" stroke="#000" stroke-width="1.65"/>
<circle cx="184.4" cy="837" r="2.85" fill="#cc0080" stroke="#000" stroke-width="1.65"/>
<circle cx="203.5" cy="840.4" r="2.85" fill="#cc0080" stroke="#000" stroke-width="1.65"/>
<circle cx="196.9" cy="841.3" r="2.85" fill="#cc0080" stroke="#000" stroke-width="1.65"/>
<circle cx="184.4" cy="843.3" r="2.85" fill="#cc0080" stroke="#000" stroke-width="1.65"/>
<circle cx="221.4" cy="838.4" r="2.85" fill="#652c78" stroke="#000" stroke-width="1.65"/>
<circle cx="229.5" cy="839" r="2.85" fill="#652c78" stroke="#000" stroke-width="1.65"/>
<circle cx="237.2" cy="839.7" r="2.85" fill="#652c78" stroke="#000" stroke-width="1.65"/>
<circle cx="225.7" cy="840.1" r="2.85" fill="#652c78" stroke="#000" stroke-width="1.65"/>
<circle cx="217.8" cy="843.3" r="2.85" fill="#652c78" stroke="#000" stroke-width="1.65"/>
<circle cx="233.1" cy="844.4" r="2.85" fill="#652c78" stroke="#000" stroke-width="1.65"/>
<circle cx="274.9" cy="762.8" r="2.85" fill="#dcdcdc" stroke="#000" stroke-width="1.65"/>
<circle cx="280.7" cy="778" r="2.85" fill="#dcdcdc" stroke="#000" stroke-width="1.65"/>
<circle cx="268.9" cy="778.4" r="2.85" fill="#dcdcdc" stroke="#000" stroke-width="1.65"/>
<circle cx="314.5" cy="761.9" r="2.85" fill="#a39ddb" stroke="#000" stroke-width="1.65"/>
<circle cx="302.7" cy="763.9" r="2.85" fill="#a39ddb" stroke="#000" stroke-width="1.65"/>
<circle cx="314.5" cy="777" r="2.85" fill="#a39ddb" stroke="#000" stroke-width="1.65"/>
<circle cx="302.7" cy="779.1" r="2.85" fill="#a39ddb" stroke="#000" stroke-width="1.65"/>
<circle cx="314.5" cy="786.8" r="2.85" fill="#a39ddb" stroke="#000" stroke-width="1.65"/>
<circle cx="302.7" cy="787.8" r="2.85" fill="#a39ddb" stroke="#000" stroke-width="1.65"/>
<circle cx="342.6" cy="784.1" r="2.85" fill="#cc0080" stroke="#000" stroke-width="1.65"/>
<circle cx="342.6" cy="793" r="2.85" fill="#cc0080" stroke="#000" stroke-width="1.65"/>
<circle cx="332.4" cy="795" r="2.85" fill="#cc0080" stroke="#000" stroke-width="1.65"/>
<circle cx="352.4" cy="795.7" r="2.85" fill="#cc0080" stroke="#000" stroke-width="1.65"/>
<circle cx="347.3" cy="802.3" r="2.85" fill="#cc0080" stroke="#000" stroke-width="1.65"/>
<circle cx="337.6" cy="806.4" r="2.85" fill="#cc0080" stroke="#000" stroke-width="1.65"/>
<circle cx="385.8" cy="819.6" r="2.85" fill="#652c78" stroke="#000" stroke-width="1.65"/>
<circle cx="376.1" cy="824.3" r="2.85" fill="#652c78" stroke="#000" stroke-width="1.65"/>
<circle cx="385.8" cy="826.1" r="2.85" fill="#652c78" stroke="#000" stroke-width="1.65"/>
<circle cx="376.1" cy="830.8" r="2.85" fill="#652c78" stroke="#000" stroke-width="1.65"/>
<circle cx="385.8" cy="832.4" r="2.85" fill="#652c78" stroke="#000" stroke-width="1.65"/>
<circle cx="366.6" cy="835.1" r="2.85" fill="#652c78" stroke="#000" stroke-width="1.65"/>
<line x1="104.9" y1="727.2" x2="104.9" y2="880.8" stroke="#000" stroke-width="2.1"/>
<line x1="98.2" y1="880.8" x2="399.6" y2="880.8" stroke="#000" stroke-width="2.1"/>
<line x1="98.2" y1="880.80" x2="105" y2="880.80" stroke="#000" stroke-width="1.7"/>
<text x="92.2" y="885.35" text-anchor="end" font-family='"Liberation Sans", sans-serif' font-size="16.4">0</text>
<line x1="98.2" y1="831.80" x2="105" y2="831.80" stroke="#000" stroke-width="1.7"/>
<text x="92.2" y="836.35" text-anchor="end" font-family='"Liberation Sans", sans-serif' font-size="16.4">1</text>
<line x1="98.2" y1="782.80" x2="105" y2="782.80" stroke="#000" stroke-width="1.7"/>
<text x="92.2" y="787.35" text-anchor="end" font-family='"Liberation Sans", sans-serif' font-size="16.4">2</text>
<line x1="98.2" y1="733.80" x2="105" y2="733.80" stroke="#000" stroke-width="1.7"/>
<text x="92.2" y="738.35" text-anchor="end" font-family='"Liberation Sans", sans-serif' font-size="16.4">3</text>
<line x1="126.0" y1="880.8" x2="126.0" y2="887.0999999999999" stroke="#000" stroke-width="1.7"/>
<line x1="159.85" y1="880.8" x2="159.85" y2="887.0999999999999" stroke="#000" stroke-width="1.7"/>
<line x1="193.7" y1="880.8" x2="193.7" y2="887.0999999999999" stroke="#000" stroke-width="1.7"/>
<line x1="227.55" y1="880.8" x2="227.55" y2="887.0999999999999" stroke="#000" stroke-width="1.7"/>
<line x1="274.5" y1="880.8" x2="274.5" y2="887.0999999999999" stroke="#000" stroke-width="1.7"/>
<line x1="308.35" y1="880.8" x2="308.35" y2="887.0999999999999" stroke="#000" stroke-width="1.7"/>
<line x1="342.2" y1="880.8" x2="342.2" y2="887.0999999999999" stroke="#000" stroke-width="1.7"/>
<line x1="376.05" y1="880.8" x2="376.05" y2="887.0999999999999" stroke="#000" stroke-width="1.7"/>
<line x1="126.3" y1="746.8" x2="274.6" y2="746.8" stroke="#000" stroke-width="1.9"/>
<polygon points="189.95,735.90 190.80,738.34 193.37,738.39 191.32,739.94 192.07,742.41 189.95,740.94 187.83,742.41 188.58,739.94 186.53,738.39 189.10,738.34" fill="#111"/><polygon points="196.95,735.90 197.80,738.34 200.37,738.39 198.32,739.94 199.07,742.41 196.95,740.94 194.83,742.41 195.58,739.94 193.53,738.39 196.10,738.34" fill="#111"/><polygon points="203.95,735.90 204.80,738.34 207.37,738.39 205.32,739.94 206.07,742.41 203.95,740.94 201.83,742.41 202.58,739.94 200.53,738.39 203.10,738.34" fill="#111"/><polygon points="210.95,735.90 211.80,738.34 214.37,738.39 212.32,739.94 213.07,742.41 210.95,740.94 208.83,742.41 209.58,739.94 207.53,738.39 210.10,738.34" fill="#111"/>
<line x1="275" y1="720" x2="376" y2="720" stroke="#000" stroke-width="1.9"/>
<polygon points="315.00,709.10 315.85,711.54 318.42,711.59 316.37,713.14 317.12,715.61 315.00,714.14 312.88,715.61 313.63,713.14 311.58,711.59 314.15,711.54" fill="#111"/><polygon points="322.00,709.10 322.85,711.54 325.42,711.59 323.37,713.14 324.12,715.61 322.00,714.14 319.88,715.61 320.63,713.14 318.58,711.59 321.15,711.54" fill="#111"/><polygon points="329.00,709.10 329.85,711.54 332.42,711.59 330.37,713.14 331.12,715.61 329.00,714.14 326.88,715.61 327.63,713.14 325.58,711.59 328.15,711.54" fill="#111"/><polygon points="336.00,709.10 336.85,711.54 339.42,711.59 337.37,713.14 338.12,715.61 336.00,714.14 333.88,715.61 334.63,713.14 332.58,711.59 335.15,711.54" fill="#111"/>
<line x1="275" y1="737" x2="342.3" y2="737" stroke="#000" stroke-width="1.9"/>
<polygon points="301.65,726.10 302.50,728.54 305.07,728.59 303.02,730.14 303.77,732.61 301.65,731.14 299.53,732.61 300.28,730.14 298.23,728.59 300.80,728.54" fill="#111"/><polygon points="308.65,726.10 309.50,728.54 312.07,728.59 310.02,730.14 310.77,732.61 308.65,731.14 306.53,732.61 307.28,730.14 305.23,728.59 307.80,728.54" fill="#111"/><polygon points="315.65,726.10 316.50,728.54 319.07,728.59 317.02,730.14 317.77,732.61 315.65,731.14 313.53,732.61 314.28,730.14 312.23,728.59 314.80,728.54" fill="#111"/>
<line x1="343" y1="771.7" x2="376.4" y2="771.7" stroke="#000" stroke-width="1.9"/>
<polygon points="349.20,760.80 350.05,763.24 352.62,763.29 350.57,764.84 351.32,767.31 349.20,765.84 347.08,767.31 347.83,764.84 345.78,763.29 348.35,763.24" fill="#111"/><polygon points="356.20,760.80 357.05,763.24 359.62,763.29 357.57,764.84 358.32,767.31 356.20,765.84 354.08,767.31 354.83,764.84 352.78,763.29 355.35,763.24" fill="#111"/><polygon points="363.20,760.80 364.05,763.24 366.62,763.29 364.57,764.84 365.32,767.31 363.20,765.84 361.08,767.31 361.83,764.84 359.78,763.29 362.35,763.24" fill="#111"/><polygon points="370.20,760.80 371.05,763.24 373.62,763.29 371.57,764.84 372.32,767.31 370.20,765.84 368.08,767.31 368.83,764.84 366.78,763.29 369.35,763.24" fill="#111"/>
<line x1="121.5" y1="902.90" x2="130.5" y2="902.90" stroke="#111" stroke-width="1.3"/>
<line x1="126.0" y1="898.40" x2="126.0" y2="907.40" stroke="#111" stroke-width="1.3"/>
<line x1="155.35" y1="902.90" x2="164.35" y2="902.90" stroke="#111" stroke-width="1.3"/>
<line x1="159.85" y1="898.40" x2="159.85" y2="907.40" stroke="#111" stroke-width="1.3"/>
<line x1="189.2" y1="902.90" x2="198.2" y2="902.90" stroke="#111" stroke-width="1.3"/>
<line x1="193.7" y1="898.40" x2="193.7" y2="907.40" stroke="#111" stroke-width="1.3"/>
<line x1="223.05" y1="903.50" x2="232.05" y2="903.50" stroke="#111" stroke-width="1.3"/>
<line x1="270.0" y1="902.90" x2="279.0" y2="902.90" stroke="#111" stroke-width="1.3"/>
<line x1="274.5" y1="898.40" x2="274.5" y2="907.40" stroke="#111" stroke-width="1.3"/>
<line x1="303.85" y1="902.90" x2="312.85" y2="902.90" stroke="#111" stroke-width="1.3"/>
<line x1="308.35" y1="898.40" x2="308.35" y2="907.40" stroke="#111" stroke-width="1.3"/>
<line x1="337.7" y1="902.90" x2="346.7" y2="902.90" stroke="#111" stroke-width="1.3"/>
<line x1="342.2" y1="898.40" x2="342.2" y2="907.40" stroke="#111" stroke-width="1.3"/>
<line x1="371.55" y1="903.50" x2="380.55" y2="903.50" stroke="#111" stroke-width="1.3"/>
<line x1="121.5" y1="924.00" x2="130.5" y2="924.00" stroke="#111" stroke-width="1.3"/>
<line x1="155.35" y1="923.40" x2="164.35" y2="923.40" stroke="#111" stroke-width="1.3"/>
<line x1="159.85" y1="918.90" x2="159.85" y2="927.90" stroke="#111" stroke-width="1.3"/>
<line x1="189.2" y1="924.00" x2="198.2" y2="924.00" stroke="#111" stroke-width="1.3"/>
<line x1="223.05" y1="923.40" x2="232.05" y2="923.40" stroke="#111" stroke-width="1.3"/>
<line x1="227.55" y1="918.90" x2="227.55" y2="927.90" stroke="#111" stroke-width="1.3"/>
<line x1="270.0" y1="924.00" x2="279.0" y2="924.00" stroke="#111" stroke-width="1.3"/>
<line x1="303.85" y1="923.40" x2="312.85" y2="923.40" stroke="#111" stroke-width="1.3"/>
<line x1="308.35" y1="918.90" x2="308.35" y2="927.90" stroke="#111" stroke-width="1.3"/>
<line x1="337.7" y1="924.00" x2="346.7" y2="924.00" stroke="#111" stroke-width="1.3"/>
<line x1="371.55" y1="923.40" x2="380.55" y2="923.40" stroke="#111" stroke-width="1.3"/>
<line x1="376.05" y1="918.90" x2="376.05" y2="927.90" stroke="#111" stroke-width="1.3"/>
<line x1="121.5" y1="944.50" x2="130.5" y2="944.50" stroke="#111" stroke-width="1.3"/>
<line x1="155.35" y1="944.50" x2="164.35" y2="944.50" stroke="#111" stroke-width="1.3"/>
<line x1="189.2" y1="943.90" x2="198.2" y2="943.90" stroke="#111" stroke-width="1.3"/>
<line x1="193.7" y1="939.40" x2="193.7" y2="948.40" stroke="#111" stroke-width="1.3"/>
<line x1="223.05" y1="943.90" x2="232.05" y2="943.90" stroke="#111" stroke-width="1.3"/>
<line x1="227.55" y1="939.40" x2="227.55" y2="948.40" stroke="#111" stroke-width="1.3"/>
<line x1="270.0" y1="944.50" x2="279.0" y2="944.50" stroke="#111" stroke-width="1.3"/>
<line x1="303.85" y1="944.50" x2="312.85" y2="944.50" stroke="#111" stroke-width="1.3"/>
<line x1="337.7" y1="943.90" x2="346.7" y2="943.90" stroke="#111" stroke-width="1.3"/>
<line x1="342.2" y1="939.40" x2="342.2" y2="948.40" stroke="#111" stroke-width="1.3"/>
<line x1="371.55" y1="943.90" x2="380.55" y2="943.90" stroke="#111" stroke-width="1.3"/>
<line x1="376.05" y1="939.40" x2="376.05" y2="948.40" stroke="#111" stroke-width="1.3"/>
<text x="406.3" y="908.20" font-family='"Liberation Sans", sans-serif' font-size="15.6" textLength="72.2" lengthAdjust="spacingAndGlyphs">scr siRNA</text>
<text x="406.3" y="928.70" font-family='"Liberation Sans", sans-serif' font-size="15.6" textLength="98.2" lengthAdjust="spacingAndGlyphs">HIF1A siRNA</text>
<text x="406.3" y="949.20" font-family='"Liberation Sans", sans-serif' font-size="15.6" textLength="98.2" lengthAdjust="spacingAndGlyphs">HIF2A siRNA</text>
<line x1="114" y1="959.50" x2="239.5" y2="959.50" stroke="#000" stroke-width="1.9"/>
<line x1="263" y1="959.50" x2="388" y2="959.50" stroke="#66a3dc" stroke-width="1.7"/>
<text x="176.5" y="980.00" text-anchor="middle" font-family='"Liberation Sans", sans-serif' font-size="15.6" textLength="51" lengthAdjust="spacingAndGlyphs">– DFO</text>
<text x="325.6" y="980.00" text-anchor="middle" font-family='"Liberation Sans", sans-serif' font-size="15.6" textLength="51" lengthAdjust="spacingAndGlyphs">+ DFO</text>
<g transform="translate(47.2,804.0) rotate(-90)"><text x="0" y="0" text-anchor="middle" font-family='"Liberation Sans", sans-serif' font-size="20" textLength="154.4" lengthAdjust="spacingAndGlyphs">Hep3B <tspan font-style="italic">NCOA4</tspan> : <tspan font-style="italic">ACTB</tspan></text></g>
<g transform="translate(71.6,804.0) rotate(-90)"><text x="0" y="0" text-anchor="middle" font-family='"Liberation Sans", sans-serif' font-size="20" textLength="44" lengthAdjust="spacingAndGlyphs">mRNA</text></g>
<rect x="1.25" y="1.2" width="517.5" height="996.55" fill="none" stroke="#000" stroke-width="2.5"/>
</svg></body></html>
